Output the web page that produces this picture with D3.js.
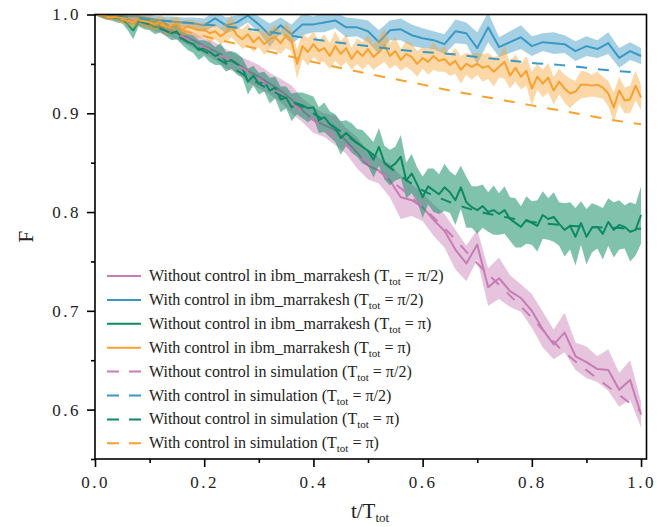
<!DOCTYPE html>
<html>
<head>
<meta charset="utf-8">
<script src="https://cdn.jsdelivr.net/npm/d3@7"></script>
<style>
    body { margin: 0; background: #fff; }
    svg { display: block; }
</style>
</head>
<body>
<div id="chart"></div>
<script>
const WIDTH = 657;
const HEIGHT = 527;
const MARGIN = { top: 14.5, right: 10.5, bottom: 68, left: 95 };

// T_tot = pi/2 runs: 51 points, T_tot = pi runs: 101 points
const timeHalf = d3.range(0, 51).map(i => i / 50);
const timeFull = d3.range(0, 101).map(i => i / 100);

const pinkValues = [
    1.000, 0.997, 0.997, 0.995, 0.993, 0.990, 0.987, 0.983, 0.979, 0.974,
    0.968, 0.963, 0.955, 0.950, 0.943, 0.937, 0.930, 0.923, 0.914, 0.903,
    0.893, 0.888, 0.883, 0.872, 0.860, 0.847, 0.842, 0.832, 0.815, 0.812,
    0.805, 0.792, 0.781, 0.762, 0.748, 0.767, 0.724, 0.733, 0.720, 0.713,
    0.700, 0.681, 0.666, 0.678, 0.654, 0.648, 0.641, 0.640, 0.620, 0.630,
    0.595
];
const pinkErr = [
    0.000, 0.002, 0.003, 0.004, 0.004, 0.005, 0.006, 0.006, 0.007, 0.008,
    0.008, 0.009, 0.010, 0.009, 0.011, 0.012, 0.011, 0.012, 0.014, 0.012,
    0.013, 0.012, 0.015, 0.013, 0.016, 0.014, 0.013, 0.017, 0.022, 0.016,
    0.014, 0.016, 0.017, 0.020, 0.018, 0.015, 0.019, 0.021, 0.016, 0.014,
    0.017, 0.018, 0.015, 0.020, 0.014, 0.016, 0.013, 0.021, 0.017, 0.020,
    0.013
];

const blueValues = [
    1.000, 0.999, 0.999, 0.998, 0.998, 0.996, 0.994, 0.993, 0.992, 0.991,
    0.989, 0.996, 0.989, 0.992, 0.999, 0.990, 0.979, 0.989, 0.980, 0.990,
    0.990, 0.992, 0.994, 0.987, 0.987, 0.983, 0.972, 0.984, 0.985, 0.979,
    0.976, 0.974, 0.970, 0.983, 0.981, 0.966, 0.987, 0.967, 0.972, 0.977,
    0.968, 0.972, 0.971, 0.970, 0.963, 0.968, 0.965, 0.971, 0.956, 0.963,
    0.958
];
const blueErr = [
    0.000, 0.002, 0.002, 0.003, 0.003, 0.004, 0.004, 0.005, 0.005, 0.006,
    0.007, 0.007, 0.008, 0.007, 0.007, 0.008, 0.012, 0.008, 0.010, 0.011,
    0.008, 0.010, 0.008, 0.010, 0.009, 0.011, 0.012, 0.010, 0.011, 0.011,
    0.010, 0.009, 0.010, 0.012, 0.011, 0.016, 0.015, 0.010, 0.011, 0.012,
    0.010, 0.009, 0.011, 0.009, 0.010, 0.010, 0.009, 0.011, 0.010, 0.009,
    0.008
];

const greenValues = [
    1.000, 0.999, 0.998, 0.997, 0.996, 0.995, 0.990, 0.984, 0.993, 0.991,
    0.990, 0.987, 0.988, 0.985, 0.981, 0.983, 0.976, 0.972, 0.970, 0.964,
    0.966, 0.962, 0.958, 0.960, 0.952, 0.954, 0.950, 0.946, 0.932, 0.938,
    0.930, 0.932, 0.923, 0.926, 0.914, 0.916, 0.906, 0.910, 0.908, 0.905,
    0.906, 0.893, 0.896, 0.889, 0.885, 0.875, 0.880, 0.875, 0.870, 0.866,
    0.862, 0.853, 0.866, 0.850, 0.845, 0.849, 0.856, 0.832, 0.839, 0.828,
    0.815, 0.826, 0.822, 0.818, 0.825, 0.820, 0.812, 0.825, 0.810, 0.805,
    0.802, 0.806, 0.800, 0.802, 0.798, 0.802, 0.793, 0.789, 0.785, 0.792,
    0.789, 0.786, 0.797, 0.793, 0.795, 0.788, 0.782, 0.786, 0.775, 0.789,
    0.775, 0.784, 0.785, 0.778, 0.790, 0.782, 0.787, 0.785, 0.780, 0.782,
    0.797
];
const greenErr = [
    0.000, 0.002, 0.003, 0.003, 0.004, 0.004, 0.006, 0.009, 0.005, 0.006,
    0.006, 0.007, 0.006, 0.007, 0.007, 0.008, 0.007, 0.008, 0.009, 0.010,
    0.008, 0.010, 0.009, 0.011, 0.010, 0.009, 0.011, 0.010, 0.013, 0.010,
    0.011, 0.010, 0.013, 0.011, 0.013, 0.011, 0.014, 0.011, 0.013, 0.014,
    0.011, 0.013, 0.015, 0.013, 0.014, 0.017, 0.013, 0.015, 0.014, 0.017,
    0.015, 0.018, 0.019, 0.017, 0.018, 0.017, 0.022, 0.018, 0.020, 0.017,
    0.021, 0.018, 0.022, 0.020, 0.024, 0.021, 0.025, 0.022, 0.026, 0.021,
    0.024, 0.022, 0.020, 0.025, 0.021, 0.024, 0.022, 0.025, 0.021, 0.024,
    0.022, 0.026, 0.024, 0.021, 0.025, 0.022, 0.027, 0.024, 0.029, 0.022,
    0.028, 0.025, 0.022, 0.026, 0.024, 0.028, 0.025, 0.022, 0.030, 0.026,
    0.029
];

const orangeValues = [
    1.000, 0.999, 0.998, 0.997, 0.998, 0.995, 0.994, 0.992, 0.996, 0.993,
    0.992, 0.990, 0.993, 0.987, 0.989, 0.991, 0.985, 0.988, 0.986, 0.984,
    0.985, 0.981, 0.983, 0.978, 0.982, 0.988, 0.979, 0.975, 0.980, 0.972,
    0.977, 0.970, 0.975, 0.977, 0.971, 0.979, 0.973, 0.950, 0.968, 0.962,
    0.970, 0.963, 0.966, 0.958, 0.968, 0.960, 0.966, 0.955, 0.963, 0.958,
    0.965, 0.957, 0.962, 0.969, 0.958, 0.963, 0.954, 0.960, 0.957, 0.950,
    0.956, 0.952, 0.958, 0.953, 0.955, 0.949, 0.953, 0.944, 0.950, 0.947,
    0.950, 0.946, 0.948, 0.942, 0.947, 0.952, 0.938, 0.946, 0.937, 0.943,
    0.925, 0.937, 0.930, 0.936, 0.923, 0.932, 0.925, 0.920, 0.922, 0.929,
    0.929, 0.928, 0.929, 0.926, 0.920, 0.906, 0.923, 0.913, 0.914, 0.928,
    0.916
];
const orangeErr = [
    0.000, 0.002, 0.003, 0.003, 0.004, 0.004, 0.005, 0.007, 0.005, 0.006,
    0.007, 0.006, 0.007, 0.008, 0.007, 0.007, 0.008, 0.007, 0.008, 0.008,
    0.007, 0.010, 0.008, 0.008, 0.010, 0.011, 0.008, 0.010, 0.011, 0.010,
    0.010, 0.011, 0.010, 0.013, 0.011, 0.013, 0.011, 0.015, 0.013, 0.014,
    0.013, 0.011, 0.014, 0.013, 0.015, 0.013, 0.014, 0.011, 0.013, 0.014,
    0.015, 0.013, 0.014, 0.017, 0.013, 0.014, 0.011, 0.013, 0.014, 0.013,
    0.011, 0.013, 0.014, 0.011, 0.013, 0.011, 0.013, 0.014, 0.011, 0.013,
    0.011, 0.014, 0.013, 0.015, 0.011, 0.017, 0.013, 0.014, 0.013, 0.015,
    0.017, 0.013, 0.014, 0.015, 0.014, 0.013, 0.014, 0.015, 0.011, 0.014,
    0.013, 0.011, 0.013, 0.011, 0.013, 0.015, 0.014, 0.013, 0.014, 0.015,
    0.013
];

// simulation curves, read at a coarser step
const simTime = [0, 0.1, 0.2, 0.3, 0.4, 0.5, 0.6, 0.65, 0.7, 0.75, 0.8, 0.85, 0.9, 0.95, 1.0];
const simPink   = [1.000, 0.990, 0.967, 0.935, 0.893, 0.850, 0.805, 0.778, 0.748, 0.721, 0.693, 0.663, 0.640, 0.619, 0.598];
const simBlue   = [1.000, 0.995, 0.990, 0.984, 0.975, 0.968, 0.962, 0.960, 0.957, 0.954, 0.951, 0.949, 0.946, 0.943, 0.941];
const simGreen  = [1.000, 0.990, 0.963, 0.930, 0.900, 0.862, 0.822, 0.810, 0.801, 0.795, 0.790, 0.787, 0.785, 0.784, 0.783];
const simOrange = [1.000, 0.992, 0.978, 0.965, 0.952, 0.940, 0.929, 0.923, 0.918, 0.913, 0.908, 0.903, 0.898, 0.893, 0.889];

const xTicks = [0, 0.2, 0.4, 0.6, 0.8, 1.0];
const xMinorTicks = [0.1, 0.3, 0.5, 0.7, 0.9];
const yTicks = [0.6, 0.7, 0.8, 0.9, 1.0];
const yMinorTicks = [0.55, 0.65, 0.75, 0.85, 0.95];

const COLORS = {
    pink: '#c77cb4',
    blue: '#3a98c4',
    green: '#0d8a62',
    orange: '#f7a230'
};

const series = [
    { name: 'Without control in ibm_marrakesh', tot: 'π/2', color: COLORS.pink, t: timeHalf, v: pinkValues, e: pinkErr, alpha: 0.45 },
    { name: 'With control in ibm_marrakesh', tot: 'π/2', color: COLORS.blue, t: timeHalf, v: blueValues, e: blueErr, alpha: 0.45 },
    { name: 'Without control in ibm_marrakesh', tot: 'π', color: COLORS.green, t: timeFull, v: greenValues, e: greenErr, alpha: 0.52 },
    { name: 'With control in ibm_marrakesh', tot: 'π', color: COLORS.orange, t: timeFull, v: orangeValues, e: orangeErr, alpha: 0.42 }
];
const simulations = [
    { name: 'Without control in simulation', tot: 'π/2', color: COLORS.pink, v: simPink },
    { name: 'With control in simulation', tot: 'π/2', color: COLORS.blue, v: simBlue },
    { name: 'Without control in simulation', tot: 'π', color: COLORS.green, v: simGreen },
    { name: 'With control in simulation', tot: 'π', color: COLORS.orange, v: simOrange }
];

const FONT = '"Liberation Serif", "Times New Roman", serif';
const DASH = '11,11';

const svg = d3.select('#chart').append('svg')
    .attr('width', WIDTH)
    .attr('height', HEIGHT);

const x = d3.scaleLinear()
    .domain([0, 1.01])
    .range([MARGIN.left, WIDTH - MARGIN.right]);
const y = d3.scaleLinear()
    .domain([0.55, 1.0])
    .range([HEIGHT - MARGIN.bottom, MARGIN.top]);

svg.append('clipPath')
    .attr('id', 'plotClip')
    .append('rect')
    .attr('x', x.range()[0])
    .attr('y', y.range()[1])
    .attr('width', x.range()[1] - x.range()[0])
    .attr('height', y.range()[0] - y.range()[1]);

const plot = svg.append('g').attr('clip-path', 'url(#plotClip)');

series.forEach(s => {
    const idx = d3.range(s.v.length);
    const area = d3.area()
        .x(i => x(s.t[i]))
        .y0(i => y(s.v[i] - s.e[i]))
        .y1(i => y(s.v[i] + s.e[i]));
    plot.append('path')
        .attr('d', area(idx))
        .attr('fill', s.color)
        .attr('fill-opacity', s.alpha);
    const line = d3.line()
        .x(i => x(s.t[i]))
        .y(i => y(s.v[i]));
    plot.append('path')
        .attr('d', line(idx))
        .attr('fill', 'none')
        .attr('stroke', s.color)
        .attr('stroke-width', 2)
        .attr('stroke-linejoin', 'round');
});

simulations.forEach(s => {
    const line = d3.line()
        .x((d, i) => x(simTime[i]))
        .y(d => y(d))
        .curve(d3.curveMonotoneX);
    plot.append('path')
        .attr('d', line(s.v))
        .attr('fill', 'none')
        .attr('stroke', s.color)
        .attr('stroke-width', 2)
        .attr('stroke-dasharray', DASH);
});

// frame
svg.append('rect')
    .attr('x', x.range()[0])
    .attr('y', y.range()[1])
    .attr('width', x.range()[1] - x.range()[0])
    .attr('height', y.range()[0] - y.range()[1])
    .attr('fill', 'none')
    .attr('stroke', '#000')
    .attr('stroke-width', 1.6);

const styleAxis = g => {
    g.select('.domain').remove();
    g.selectAll('line').attr('stroke', '#000').attr('stroke-width', 1.6);
    g.selectAll('text')
        .attr('font-family', FONT)
        .attr('font-size', 17)
        .attr('letter-spacing', 2.5)
        .attr('fill', '#222');
};

svg.append('g')
    .attr('transform', `translate(0, ${y.range()[0]})`)
    .call(d3.axisBottom(x).tickValues(xTicks).tickFormat(d3.format('.1f')).tickSize(8).tickPadding(9))
    .call(styleAxis);
svg.append('g')
    .attr('transform', `translate(0, ${y.range()[0]})`)
    .call(d3.axisBottom(x).tickValues(xMinorTicks).tickFormat('').tickSize(4))
    .call(styleAxis);
svg.append('g')
    .attr('transform', `translate(${x.range()[0]}, 0)`)
    .call(d3.axisLeft(y).tickValues(yTicks).tickFormat(d3.format('.1f')).tickSize(8).tickPadding(6))
    .call(styleAxis);
svg.append('g')
    .attr('transform', `translate(${x.range()[0]}, 0)`)
    .call(d3.axisLeft(y).tickValues(yMinorTicks).tickFormat('').tickSize(4))
    .call(styleAxis);

// axis titles
svg.append('text')
    .attr('transform', `translate(33, ${(y.range()[0] + y.range()[1]) / 2}) rotate(-90)`)
    .attr('text-anchor', 'middle')
    .attr('font-family', FONT)
    .attr('font-size', 21)
    .attr('fill', '#222')
    .text('F');

const xTitle = svg.append('text')
    .attr('x', 370)
    .attr('y', 518)
    .attr('text-anchor', 'middle')
    .attr('font-family', FONT)
    .attr('font-size', 21)
    .attr('fill', '#222');
xTitle.append('tspan').text('t/T');
xTitle.append('tspan').attr('font-size', 13).attr('dy', 4).text('tot');

// legend
const legendItems = [
    ...series.map(s => ({ ...s, dashed: false })),
    ...simulations.map(s => ({ ...s, dashed: true }))
];
const legend = svg.append('g');
legendItems.forEach((item, i) => {
    const rowY = 276 + i * 23.9;
    legend.append('line')
        .attr('x1', 107)
        .attr('x2', 141)
        .attr('y1', rowY)
        .attr('y2', rowY)
        .attr('stroke', item.color)
        .attr('stroke-width', 2)
        .attr('stroke-dasharray', item.dashed ? '12,10' : null);
    const label = legend.append('text')
        .attr('x', 149)
        .attr('y', rowY + 5)
        .attr('font-family', FONT)
        .attr('font-size', 16)
        .attr('fill', '#222');
    label.append('tspan').text(`${item.name} (T`);
    label.append('tspan').attr('font-size', 11).attr('dy', 4).text('tot');
    label.append('tspan').attr('dy', -4).text(` = ${item.tot})`);
});
</script>
</body>
</html>
